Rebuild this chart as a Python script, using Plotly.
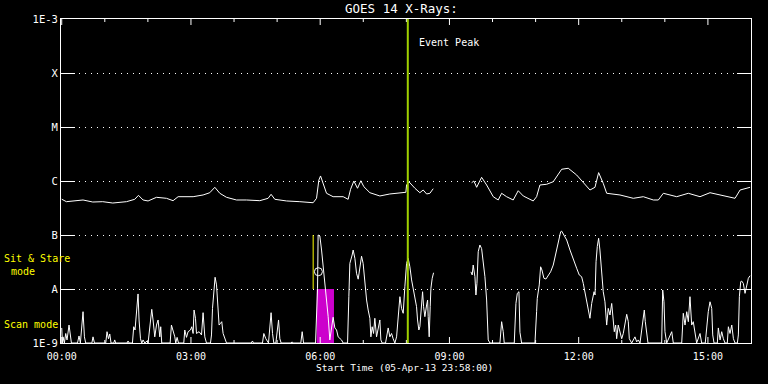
import plotly.graph_objects as go

# ---------------- data (time in minutes after 00:00, flux in W/m^2) ----------------
long_t = [0, 6.5, 29.7, 43.2, 57.1, 71.1, 90.2, 101.7, 106.9, 113.3, 120.3, 132.0, 145.9, 155.1,
          162.1, 183.0, 196.9, 206.2, 213.2, 220.2, 229.5, 243.4, 257.4, 275.9, 287.5, 291.6,
          296.8, 313.1, 331.6, 350.2, 354.9, 358.1, 360.5, 364.1, 368.8, 378.0, 392.0, 398.9,
          402.3, 406.9, 412.0, 416.6, 420.8, 429.2, 443.1, 457.0, 471.0, 479.3, 480.3, 483.9,
          491.9, 498.8, 503.4, 508.2, 512.8, 517.4, 540.0,
          570.9, 574.1, 577.9, 581.1, 584.8, 591.8, 601.0, 607.9, 612.7, 619.6, 628.8, 635.8,
          642.8, 656.7, 661.4, 666.0, 675.4, 684.6, 696.3, 705.5, 717.2, 735.7, 742.7, 747.8,
          754.2, 759.0, 777.5, 796.1, 810.0, 824.0, 830.9, 837.9, 856.5, 872.7, 889.0, 902.9,
          921.5, 937.8, 944.8, 954.1, 958.7]
long_f = [4.6e-7, 4.14e-7, 4.45e-7, 4.08e-7, 4.14e-7, 3.91e-7, 4.14e-7, 4.58e-7, 5.43e-7, 4.45e-7,
          4.27e-7, 4.99e-7, 4.78e-7, 4.32e-7, 5.12e-7, 5.12e-7, 5.51e-7, 6.07e-7, 7.64e-7, 5.92e-7,
          4.99e-7, 4.45e-7, 4.45e-7, 4.32e-7, 4.78e-7, 5.67e-7, 4.58e-7, 4.27e-7, 4.14e-7, 3.96e-7,
          4.78e-7, 1.04e-6, 1.24e-6, 9.06e-7, 5.92e-7, 5.12e-7, 5.12e-7, 4.58e-7, 7.02e-7, 1.0e-6,
          7.33e-7, 1.01e-6, 7.84e-7, 6.07e-7, 5.28e-7, 5.75e-7, 5.92e-7, 6.18e-7, 8.43e-7, 9.58e-7,
          7.33e-7, 6.07e-7, 6.81e-7, 5.75e-7, 5.92e-7, 7.2e-7, None,
          9.31e-7, 1.0e-6, 7.64e-7, 9.06e-7, 1.17e-6, 8.43e-7, 5.12e-7, 4.45e-7, 5.92e-7, 5.12e-7,
          4.45e-7, 6.61e-7, 5.28e-7, 4.27e-7, 5.12e-7, 8.43e-7, 8.69e-7, 9.70e-7, 1.65e-6, 1.72e-6,
          1.29e-6, 6.81e-7, 7.64e-7, 1.43e-6, 9.06e-7, 5.92e-7, 5.51e-7, 4.78e-7, 5.12e-7, 4.45e-7,
          4.45e-7, 5.92e-7, 5.12e-7, 5.92e-7, 5.12e-7, 6.07e-7, 5.28e-7, 4.78e-7, 6.81e-7, 7.33e-7,
          7.64e-7]

short_t = [0, 1, 1.8, 3.7, 5.6, 7.4, 10.2, 12.1, 13.5, 22, 24.1, 26, 27.9, 29.7, 31.6, 33.4, 42, 43.6,
           45.6, 61.3, 63.1, 65.1, 66.9, 68.7, 72.5, 73.8, 75.2, 91, 92.4, 93.8, 98.5, 100.3, 102.1,
           103.1, 104.9, 106.3, 107.7, 109.7, 111.5, 113.3, 115.7, 118.9, 120.3, 121.7, 123.6, 125.4,
           127.2, 129.6, 132, 134.2, 136.6, 137.9, 139.3, 151, 152.8, 155.1, 157.5, 158.8, 160.7,
           162.6, 170, 171.4, 173.8, 176, 179.3, 181.1, 183, 184.3, 186.3, 187.7, 191.3, 194.7,
           196.9, 199.3, 201.6, 207.2, 208.6, 210, 211.8, 213.6, 215.6, 217.4, 219.2, 221.1, 222.9,
           224.8, 227.1, 229.5, 264, 265.7, 267, 279.6, 281.5, 284.3, 288, 289.8, 291.6, 293.6,
           295.4, 298.2, 300, 302, 303.8, 305.6, 319.5, 320.9, 322.3, 333, 334.9, 336.8, 353.5,
           355.3, 356.3, 357.1, 359.5, 361.9, 364.1, 366.5, 368.8, 371.1, 373.4, 375.8, 378, 380.4,
           382.8, 385, 389.7, 392, 398.1, 399.9, 401.3, 404.5, 405.9, 408.3, 410.6, 412.9, 415.2,
           417.6, 419.8, 422.2, 424.6, 426.8, 429.2, 430.6, 432.4, 434.3, 436.1, 438.5, 440.7,
           443.1, 444.5, 446.3, 451, 452.4, 454.7, 457, 459.4, 461.6, 464, 466.4, 468.6, 471,
           473.3, 475.6, 477.9, 479.3, 480.3, 482.5, 484.9, 487.3, 489.5, 491.9, 494.2, 495.6,
           497.4, 498.8, 501.2, 502.6, 504, 505.8, 508.2, 509.6, 510.4, 511.8, 513.2, 514.2, 516,
           517.9, 540,
           569.9, 571.7, 573.1, 575.5, 576.9, 578.3, 580.1, 582.4, 584.8, 587, 589.4, 591.8, 593.2,
           594, 596.4, 610.3, 612.7, 614.9, 616.3, 630.3, 632.6, 634.5, 636.8, 638.2, 640.5, 659.1,
           661.4, 662.3, 665.1, 667, 668.8, 671.6, 674.4, 677.6, 680.9, 684.6, 688.3, 691.6, 694.9,
           696.3, 698.5, 703.3, 707.9, 712.5, 717.2, 720.8, 724.1, 726.4, 728.7, 731.1, 733.4,
           735.7, 738.1, 739.5, 741.4, 742.8, 744.2, 745.9, 747.8, 749.6, 752, 754.2, 756.6, 759,
           761.2, 763.6, 766, 768.2, 769.6, 771.5, 772.9, 775.1, 777.5, 779.9, 782.1, 784.5, 786.9,
           789.1, 790.5, 793.8, 798.4, 800.8, 803, 805.4, 807.7, 810, 811.4, 812.8, 814.7, 816.5,
           835.6, 837, 838.8, 840.2, 842.6, 847.2, 849.6, 851.8, 863.5, 865.7, 868.1, 870.5, 872.7,
           875, 877.4, 879.6, 882, 884.3, 889, 891.3, 896.3, 898.3, 900.5, 902.9, 905.3, 906.7,
           908.5, 913.1, 914.5, 916.9, 919.2, 921.5, 923.8, 927, 928.5, 930.8, 933.2, 935.5, 937.8,
           941, 942.4, 943.8, 945.7, 947.1, 949.3, 951.7, 954.1, 956.3, 958.7]
short_f = [1.9e-9, 1e-9, 1.3e-9, 1e-9, 1.5e-9, 1.14e-9, 2.15e-9, 1.47e-9, 1e-9, 1e-9, 1.35e-9, 1e-9,
           1.9e-9, 3.8e-9, 1.3e-9, 1e-9, 1e-9, 1.3e-9, 1e-9, 1e-9, 1.62e-9, 1.2e-9, 1.47e-9, 1e-9,
           1e-9, 1.14e-9, 1e-9, 1e-9, 1.09e-9, 1e-9, 1e-9, 2.0e-9, 1.74e-9, 2.48e-9, 6.25e-9, 8.1e-9,
           2.67e-9, 1.2e-9, 1e-9, 1.14e-9, 1e-9, 1.09e-9, 1e-9, 1.5e-9, 2.3e-9, 4.2e-9, 2.67e-9,
           1.3e-9, 2.15e-9, 2.67e-9, 1.3e-9, 2.0e-9, 1e-9, 1e-9, 2.15e-9, 1.74e-9, 1.3e-9, 1e-9,
           1.27e-9, 1e-9, 1e-9, 1.74e-9, 1.27e-9, 1.62e-9, 1.74e-9, 2.0e-9, 1.5e-9, 4.08e-9, 2.87e-9,
           1.5e-9, 1.62e-9, 1.41e-9, 3.64e-9, 1.3e-9, 1e-9, 1e-9, 1.41e-9, 4.38e-9, 9.58e-9, 1.65e-8,
           1.19e-8, 4.38e-9, 2.15e-9, 2.3e-9, 2.48e-9, 1.5e-9, 1.27e-9, 1e-9, 1e-9, 1.09e-9, 1e-9,
           1e-9, 1.5e-9, 1.2e-9, 1e-9, 1.9e-9, 3.64e-9, 1.5e-9, 1e-9, 1e-9, 1.9e-9, 2.67e-9, 1.2e-9,
           1e-9, 1e-9, 1.05e-9, 1e-9, 1e-9, 1.62e-9, 1e-9, 1e-9, 3.55e-9, 1.01e-8, 1.0e-7, 9.6e-8,
           5.27e-8, 2.58e-8, 1.47e-8, 7.2e-9, 3.07e-9, 1.14e-9, 1.74e-9, 3.0e-9, 1.9e-9, 1.74e-9,
           1.3e-9, 1.14e-9, 1e-9, 1e-9, 7.2e-9, 2.98e-8, 4.26e-8, 5.27e-8, 3.7e-8, 1.96e-8, 1.52e-8,
           2.58e-8, 4.05e-8, 2.98e-8, 1.27e-8, 6.25e-9, 4.08e-9, 2.87e-9, 1.3e-9, 2.0e-9, 1.5e-9,
           2.87e-9, 1.3e-9, 1.74e-9, 2.67e-9, 1.14e-9, 1e-9, 1e-9, 1.3e-9, 1.9e-9, 1.3e-9, 1.5e-9,
           1.2e-9, 1e-9, 1.3e-9, 2.67e-9, 7.2e-9, 4.38e-9, 3.55e-9, 1.1e-8, 1.96e-8, 2.98e-8, 3.7e-8,
           2.58e-8, 1.47e-8, 1.03e-8, 7.2e-9, 4.7e-9, 2.67e-9, 1.74e-9, 2.0e-9, 6.7e-9, 8.9e-9,
           4.7e-9, 3.07e-9, 5.06e-9, 6.25e-9, 3.07e-9, 1.3e-9, 4.7e-9, 1.03e-8, 1.58e-8, 2.0e-8, None,
           2.08e-8, 1.82e-8, 2.78e-8, 1.69e-8, 7.74e-9, 1.27e-8, 4.9e-8, 6.53e-8, 5.6e-8, 3.44e-8,
           1.69e-8, 6.25e-9, 2.67e-9, 1.14e-9, 1e-9, 1e-9, 2.48e-9, 1.62e-9, 1e-9, 1e-9, 5.4e-9,
           8.3e-9, 8.9e-9, 1.58e-9, 1e-9, 1e-9, 3.8e-9, 6.7e-9, 1.19e-8, 2.58e-8, 2.25e-8, 1.58e-8,
           1.53e-8, 1.82e-8, 2.08e-8, 2.78e-8, 4.9e-8, 8.08e-8, 1.15e-7, 1.18e-7, 1.03e-7, 8.08e-8,
           5.27e-8, 3.44e-8, 2.42e-8, 1.82e-8, 1.69e-8, 1.27e-8, 8.9e-9, 5.8e-9, 4.08e-9, 2.87e-9,
           5.4e-9, 7.2e-9, 8.9e-9, 7.74e-9, 3.2e-8, 6.1e-8, 8.7e-8, 5.27e-8, 2.08e-8, 8.9e-9, 5.8e-9,
           2.15e-9, 4.38e-9, 3.3e-9, 5.4e-9, 2.48e-9, 1.62e-9, 2.15e-9, 1.2e-9, 2.15e-9, 1.62e-9,
           1.2e-9, 1.5e-9, 2.3e-9, 3.4e-9, 2.48e-9, 1.2e-9, 1e-9, 1.3e-9, 1.05e-9, 1.14e-9, 1e-9,
           1.9e-9, 2.87e-9, 4.08e-9, 2.48e-9, 1.41e-9, 1e-9, 1e-9, 9.58e-9, 5.8e-9, 1.62e-9, 1e-9,
           1.41e-9, 1.62e-9, 1e-9, 1e-9, 3.55e-9, 2.15e-9, 3.8e-9, 2.48e-9, 7.2e-9, 2.15e-9, 2.48e-9,
           1.41e-9, 1e-9, 1.5e-9, 1e-9, 1e-9, 2.15e-9, 3.8e-9, 5.8e-9, 4.38e-9, 1.41e-9, 1e-9, 1e-9,
           1.9e-9, 1.14e-9, 1.62e-9, 1.2e-9, 1e-9, 1e-9, 2.0e-9, 1.5e-9, 2.15e-9, 1.2e-9, 1e-9, 1e-9,
           1.41e-9, 7.2e-9, 1.37e-8, 1.4e-8, 1.27e-8, 8.3e-9, 1.19e-8, 1.58e-8, 1.76e-8]

# scan / sit-and-stare markers
scan_box_t = [355.1, 379.2]          # magenta interval (minutes)
scan_box_f = [1e-9, 1e-8]
stare_line_t = [350.2]               # yellow mode marker
stare_line_f = [1e-8, 1e-7]
circle_t = [357.5]
circle_f = [2.09e-8]
event_peak_t = 482.0

x_tickvals = [0, 180, 360, 540, 720, 900]
x_ticktext = ["00:00", "03:00", "06:00", "09:00", "12:00", "15:00"]
x_hour_ticks = [60, 120, 240, 300, 420, 480, 600, 660, 780, 840]
y_tickvals = [1e-9, 1e-8, 1e-7, 1e-6, 1e-5, 1e-4, 1e-3]
y_ticktext = ["1E-9", "A", "B", "C", "M", "X", "1E-3"]

FONT = "DejaVu Sans Mono"
PLOT_H = 384 - 19 - 41  # plot-area height in px, used to size tick marks

fig = go.Figure()

# magenta scan-mode box
fig.add_trace(go.Scatter(
    x=[scan_box_t[0], scan_box_t[1], scan_box_t[1], scan_box_t[0], scan_box_t[0]],
    y=[scan_box_f[0], scan_box_f[0], scan_box_f[1], scan_box_f[1], scan_box_f[0]],
    mode="lines", fill="toself", fillcolor="#cc00cc", line=dict(width=0, color="#cc00cc"),
    hoverinfo="skip", showlegend=False))

# yellow sit & stare marker
fig.add_trace(go.Scatter(x=stare_line_t * 2, y=stare_line_f, mode="lines",
                         line=dict(color="#ffff00", width=1), showlegend=False, hoverinfo="skip"))

fig.add_trace(go.Scatter(x=long_t, y=long_f, mode="lines", connectgaps=False,
                         line=dict(color="white", width=1), showlegend=False))
fig.add_trace(go.Scatter(x=short_t, y=short_f, mode="lines", connectgaps=False,
                         line=dict(color="white", width=1), showlegend=False))
fig.add_trace(go.Scatter(x=circle_t, y=circle_f, mode="markers",
                         marker=dict(symbol="circle-open", size=8, color="white",
                                     line=dict(width=1, color="white")),
                         showlegend=False))

# x tick marks at top and bottom (long at labelled hours, short at the others)
for vals, ln in ((x_tickvals, 6), (x_hour_ticks, 3)):
    for v in vals:
        for y0 in (0.0, 1.0):
            y1 = y0 + ln / PLOT_H if y0 == 0.0 else y0 - ln / PLOT_H
            fig.add_shape(type="line", xref="x", yref="paper", x0=v, x1=v, y0=y0, y1=y1,
                          line=dict(color="white", width=1))

fig.add_shape(type="line", xref="x", yref="paper", x0=event_peak_t, x1=event_peak_t,
              y0=0, y1=1, line=dict(color="#a0d000", width=2))

ann = [
    dict(text="GOES 14 X-Rays:", x=0.494, y=1.031, font=dict(size=12.5)),
    dict(text="Start Time (05-Apr-13 23:58:00)", x=0.498, y=-0.077, font=dict(size=9.5)),
    dict(text="Sit & Stare", x=-0.0859, y=0.2593, xanchor="left", font=dict(size=10, color="#ffff00")),
    dict(text="mode", x=-0.0749, y=0.2207, xanchor="left", font=dict(size=10, color="#ffff00")),
    dict(text="Scan mode", x=-0.0859, y=0.0586, xanchor="left", font=dict(size=10, color="#ffff00")),
]
for a in ann:
    f = dict(family=FONT, color="white")
    f.update(a.pop("font"))
    fig.add_annotation(xref="paper", yref="paper", showarrow=False, yanchor="middle",
                       xanchor=a.pop("xanchor", "center"), font=f, **a)
fig.add_annotation(text="Event Peak", xref="x", yref="paper", x=event_peak_t, xshift=9,
                   y=0.926, xanchor="left", yanchor="middle", showarrow=False,
                   font=dict(family=FONT, size=10, color="white"))

fig.update_layout(
    width=768, height=384,
    margin=dict(l=61, r=17, t=19, b=41),
    paper_bgcolor="black", plot_bgcolor="black",
    font=dict(family=FONT, color="white", size=10),
    showlegend=False,
    xaxis=dict(range=[-1, 960], showline=True, linecolor="white", linewidth=1, mirror=True,
               showgrid=False, zeroline=False,
               tickmode="array", tickvals=x_tickvals, ticktext=x_ticktext,
               ticks="", tickfont=dict(family=FONT, size=10, color="white"),
               ticklabelstandoff=4),
)
fig.update_yaxes(
    type="log", range=[-9, -3], showline=True, linecolor="white", linewidth=1, mirror="ticks",
    tickmode="array", tickvals=y_tickvals, ticktext=y_ticktext,
    ticks="inside", ticklen=14, tickcolor="white", tickwidth=1,
    tickfont=dict(family=FONT, size=10.5, color="white"),
    showgrid=True, gridcolor="white", gridwidth=1, griddash="1px,5px", zeroline=False,
)

fig.write_html("out.html")
